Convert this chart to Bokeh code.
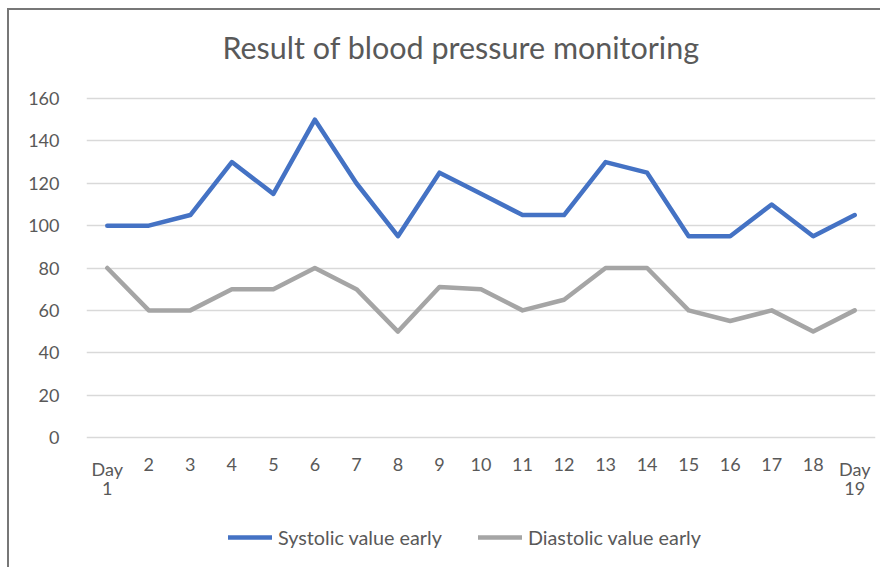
from bokeh.plotting import figure
from bokeh.models import Range1d, FixedTicker, Legend, LegendItem, ColumnDataSource, Label
from bokeh.core.properties import value
from bokeh.embed import file_html
from bokeh.resources import INLINE

# ---- data ----
days = ["Day 1"] + [str(i) for i in range(2, 19)] + ["Day 19"]
# category labels wrap onto two lines in the chart
label_line1 = ["Day"] + [str(i) for i in range(2, 19)] + ["Day"]
label_line2 = ["1"] + [""] * 17 + ["19"]
systolic = [100, 100, 105, 130, 115, 150, 120, 95, 125, 115, 105, 105, 130, 125, 95, 95, 110, 95, 105]
diastolic = [80, 60, 60, 70, 70, 80, 70, 50, 71, 70, 60, 65, 80, 80, 60, 55, 60, 50, 60]
y_ticks = [0, 20, 40, 60, 80, 100, 120, 140, 160]
series_names = ["Systolic value early", "Diastolic value early"]
title_text = "Result of blood pressure monitoring"
colors = ["#4472C4", "#A5A5A5"]

FONT = "Lato"
TXT = "#595959"

# ---- layout (pixels) ----
CANVAS_W, CANVAS_H = 873, 559
LEFT = 77            # y-axis label panel
PLOT_TOP_PAD = 88    # space from canvas top to the top gridline
PLOT_H = 339         # height between 0 and 160 gridlines
y_max_tick = y_ticks[-1]
scale = PLOT_H / y_max_tick                # px per unit
below_px = CANVAS_H - PLOT_TOP_PAD - PLOT_H  # room under the 0 line
y_lo = -below_px / scale
y_hi = y_max_tick + PLOT_TOP_PAD / scale

xpos = list(range(1, len(days) + 1))
src = ColumnDataSource(dict(x=xpos, sys=systolic, dia=diastolic,
                            lab1=label_line1, lab2=label_line2,
                            zero=[0] * len(days)))

p = figure(width=CANVAS_W, height=CANVAS_H, x_range=Range1d(0.5, len(days) + 0.5),
           y_range=Range1d(y_lo, y_hi), output_backend="svg", toolbar_location=None)
p.min_border_left = LEFT
p.min_border_right = 7
p.min_border_top = 0
p.min_border_bottom = 0
p.outline_line_color = None
p.styles = {"border-top": "2px solid #777777", "border-left": "2px solid #777777",
            "margin-left": "7px", "margin-top": "8px"}

r1 = p.line("x", "sys", source=src, line_color=colors[0], line_width=4.5,
            line_join="round", line_cap="round")
r2 = p.line("x", "dia", source=src, line_color=colors[1], line_width=4.5,
            line_join="round", line_cap="round")

# y axis
p.yaxis.ticker = FixedTicker(ticks=y_ticks)
ya = p.yaxis[0]
ya.axis_line_color = None
ya.major_tick_line_color = None
ya.minor_tick_line_color = None
ya.major_label_text_font = FONT
ya.major_label_text_font_size = "18px"
ya.major_label_text_color = TXT
ya.major_label_standoff = 21
p.xaxis.visible = False

# x category labels under the 0 line (two text rows)
for col, off in (("lab1", 20), ("lab2", 44)):
    p.text(x="x", y="zero", text=col, source=src, text_align="center", text_baseline="top",
           y_offset=off, text_font=value(FONT), text_font_size="18px", text_color=TXT)

p.xgrid.grid_line_color = None
p.ygrid.grid_line_color = "#D9D9D9"
p.ygrid.grid_line_width = 1.3

# title
title = Label(x=(len(days) + 1) / 2, y=y_max_tick + 52 / scale, x_offset=-20,
              text=title_text, text_align="center", text_baseline="alphabetic",
              text_font=FONT, text_font_size="30.5px", text_color=TXT)
p.add_layout(title)

legend = Legend(items=[LegendItem(label=series_names[0], renderers=[r1]),
                       LegendItem(label=series_names[1], renderers=[r2])],
                orientation="horizontal", location=(142, 20))
legend.border_line_color = None
legend.background_fill_alpha = 0
legend.label_text_font = FONT
legend.label_text_font_size = "19.8px"
legend.label_text_color = TXT
legend.glyph_width = 44
legend.label_standoff = 6
legend.spacing = 36
legend.padding = 0
legend.margin = 0
p.add_layout(legend, "center")

open("out.html", "w").write(file_html(p, INLINE))
